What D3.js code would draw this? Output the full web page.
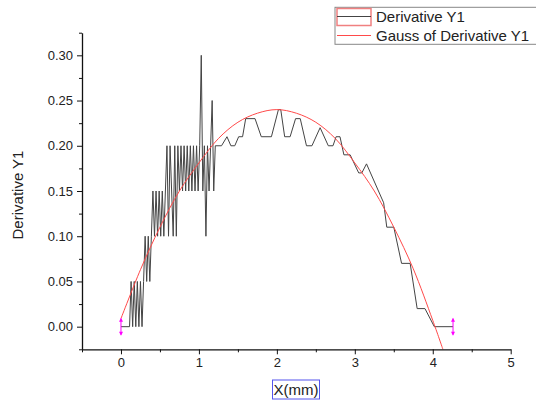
<!DOCTYPE html>
<html><head><meta charset="utf-8">
<script src="https://cdn.jsdelivr.net/npm/d3@7"></script>
<style>body{margin:0;background:#fff} svg{display:block;font-family:Arial,"Liberation Sans",sans-serif}</style>
</head><body><svg id="c" width="536" height="403"></svg>
<script>
// ---- data ----
const derivX = [0.00,0.11,
  0.13,0.15,0.17,0.19,0.21,0.23,0.25,0.27,0.29,
  0.31,0.33,0.35,0.37,0.39,
  0.41,0.43,0.45,0.47,0.49,0.51,0.53,0.55,0.57,0.59,0.61,0.63,0.65,0.67,0.69,0.71,0.73,0.75,0.77,0.79,
  0.81,0.83,0.85,0.87,0.89,0.91,0.93,0.95,0.97,0.99,1.01,1.03,1.05,1.07,1.09,1.11,1.13,1.15,1.17,1.19,
  1.21,1.29,1.36,1.41,1.46,1.51,1.56,1.60,1.72,1.80,1.93,2.02,2.05,2.10,2.17,2.24,2.30,2.38,2.45,2.555,
  2.66,2.72,2.76,2.81,2.86,2.94,3.05,3.09,3.15,3.37,3.41,3.50,3.60,3.71,3.80,3.90,4.02,4.26];
const derivY = [0,0,
  0.05,0,0.05,0,0.05,0,0.05,0,0.05,
  0.10,0.05,0.10,0.05,0.10,
  0.15,0.10,0.15,0.10,0.15,0.10,0.15,0.10,0.15,0.20,0.10,0.20,0.15,0.10,0.20,0.10,0.20,0.15,0.20,0.15,
  0.20,0.15,0.20,0.15,0.20,0.15,0.20,0.15,0.20,0.15,0.20,0.30,0.15,0.20,0.10,0.20,0.15,0.20,0.25,0.15,
  0.20,0.20,0.21,0.20,0.20,0.21,0.21,0.23,0.23,0.21,0.21,0.24,0.24,0.21,0.21,0.23,0.23,0.20,0.20,0.22,
  0.20,0.20,0.21,0.21,0.19,0.19,0.17,0.17,0.18,0.137,0.11,0.11,0.07,0.07,0.02,0.02,0,0];
const gaussX = [0,0.25,0.5,0.75,1,1.25,1.5,1.75,2,2.25,2.5,2.75,3,3.25,3.5,3.75,4,4.13];
const gaussY = [0.009,0.063,0.110,0.150,0.181,0.208,0.226,0.236,0.240,0.236,0.226,0.208,0.181,0.150,0.110,0.064,0.007,-0.025];
const markerX = [0, 4.26];
const xMajor = [0,1,2,3,4,5];
const xMinor = [-0.5,0.5,1.5,2.5,3.5,4.5];
const yMajor = [0,0.05,0.10,0.15,0.20,0.25,0.30];
const yMinor = [-0.025,0.025,0.075,0.125,0.175,0.225,0.275,0.325];
const legendLabels = ["Derivative Y1","Gauss of Derivative Y1"];
const legendColors = ["#444444","#ff4a4a"];
const xTitle = "X(mm)", yTitle = "Derivative Y1";

// ---- drawing ----
const svg = d3.select("#c");
const x = d3.scaleLinear().domain([-0.5,5]).range([82,510.7]);
const y = d3.scaleLinear().domain([-0.025,0.325]).range([349.3,32.7]);

const lineStraight = d3.line().x(d=>x(d[0])).y(d=>y(d[1]));
const lineSmooth = d3.line().x(d=>x(d[0])).y(d=>y(d[1])).curve(d3.curveCatmullRom);
svg.append("path").datum(derivX.map((v,i)=>[v,derivY[i]]))
  .attr("d", lineStraight).attr("fill","none").attr("stroke",legendColors[0]).attr("stroke-width",1);
svg.append("path").datum(gaussX.map((v,i)=>[v,gaussY[i]]))
  .attr("d", lineSmooth).attr("fill","none").attr("stroke",legendColors[1]).attr("stroke-width",1);

// magenta range markers
markerX.forEach(mx=>{
  const g = svg.append("g").attr("fill","#ff00ff").attr("stroke","#ff00ff");
  const cx = x(mx), cy = y(0);
  g.append("line").attr("x1",cx).attr("x2",cx).attr("y1",cy-8).attr("y2",cy+8).attr("stroke-width",1);
  g.append("path").attr("stroke","none").attr("d",`M${cx-2},${cy-5}L${cx},${cy-9}L${cx+2},${cy-5}Z`);
  g.append("path").attr("stroke","none").attr("d",`M${cx-2},${cy+5}L${cx},${cy+9}L${cx+2},${cy+5}Z`);
});

// axes
const fmt = d3.format(".2f");
const ax = svg.append("g").attr("transform",`translate(0,${y(-0.025)})`)
  .call(d3.axisBottom(x).tickValues(xMajor).tickSize(5).tickSizeOuter(0).tickFormat(d3.format("d")));
svg.append("g").attr("transform",`translate(0,${y(-0.025)})`)
  .call(d3.axisBottom(x).tickValues(xMinor).tickSize(3).tickSizeOuter(0).tickFormat(""))
  .select(".domain").remove();
const ay = svg.append("g").attr("transform",`translate(${x(-0.5)},0)`)
  .call(d3.axisLeft(y).tickValues(yMajor).tickSize(5).tickSizeOuter(0).tickFormat(fmt));
svg.append("g").attr("transform",`translate(${x(-0.5)},0)`)
  .call(d3.axisLeft(y).tickValues(yMinor).tickSize(3).tickSizeOuter(0).tickFormat(""))
  .select(".domain").remove();
svg.selectAll(".domain").attr("stroke","#111").attr("stroke-width",1.3);
svg.selectAll(".tick line").attr("stroke","#111");
ax.selectAll("text").attr("font-size",13).attr("fill","#222").attr("font-family","Arial,'Liberation Sans',sans-serif").attr("y",8);
ay.selectAll("text").attr("font-size",13).attr("fill","#222").attr("font-family","Arial,'Liberation Sans',sans-serif").attr("x",-9);

// titles
const xt = svg.append("text").attr("x",296).attr("y",395).attr("text-anchor","middle")
  .attr("font-size",15).attr("fill","#222").text(xTitle);
const bb = xt.node().getBBox();
svg.append("rect").attr("x",bb.x-1).attr("y",bb.y-1).attr("width",bb.width+2).attr("height",bb.height+2)
  .attr("fill","none").attr("stroke","#5555ee").attr("stroke-width",1);
svg.append("text").attr("transform","translate(23,195) rotate(-90)").attr("text-anchor","middle")
  .attr("font-size",15).attr("fill","#222").text(yTitle);

// legend
const lg = svg.append("g");
lg.append("rect").attr("x",335).attr("y",7.3).attr("width",260).attr("height",37)
  .attr("fill","#fff").attr("stroke","#888").attr("stroke-width",1);
lg.append("rect").attr("x",337).attr("y",8.5).attr("width",34).attr("height",17)
  .attr("fill","none").attr("stroke","#f08080").attr("stroke-width",1.5);
legendLabels.forEach((t,i)=>{
  const yy = 16.5 + i*19;
  lg.append("path").attr("d",`M337,${yy}H371`).attr("fill","none")
    .attr("stroke",legendColors[i]).attr("stroke-width",1);
  lg.append("text").attr("x",376).attr("y",22+i*18.7).attr("font-size",15).attr("fill","#222").text(t);
});
</script></body></html>
